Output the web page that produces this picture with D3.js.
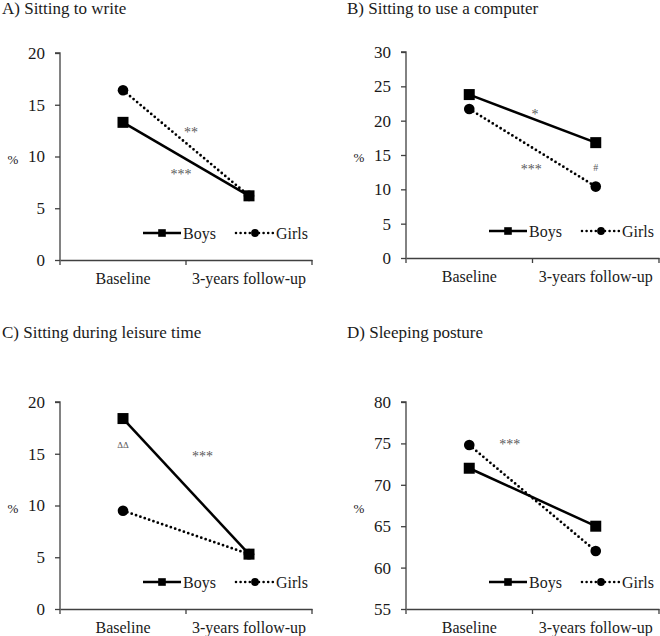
<!DOCTYPE html>
<html>
<head>
<meta charset="utf-8">
<script src="https://cdn.jsdelivr.net/npm/d3@7"></script>
<style>
  html, body { margin: 0; padding: 0; background: #fff; }
  svg { display: block; }
</style>
</head>
<body>
<svg id="chart" width="660" height="636" font-family="Liberation Serif"></svg>
<script>
// ---------- data ----------
const categories = ["Baseline", "3-years follow-up"];
const panelTitles = [
  "A) Sitting to write",
  "B) Sitting to use a computer",
  "C) Sitting during leisure time",
  "D) Sleeping posture"
];
const seriesNames = ["Boys", "Girls"];
const boysValues  = [[13.3, 6.2], [23.8, 16.8], [18.4, 5.3], [72.0, 65.0]];
const girlsValues = [[16.4, 6.2], [21.7, 10.4], [9.5, 5.3],  [74.8, 62.0]];
const yDomains = [[0, 20], [0, 30], [0, 20], [55, 80]];
const yTickValues = [
  [0, 5, 10, 15, 20],
  [0, 5, 10, 15, 20, 25, 30],
  [0, 5, 10, 15, 20],
  [55, 60, 65, 70, 75, 80]
];
const yAxisLabel = "%";
// significance marks: text, position between the two categories (0..1), value
const annotationTexts = [["**", "***"], ["*", "***", "#"], ["ΔΔ", "***"], ["***"]];
const annotationPos   = [[0.54, 0.46], [0.52, 0.49, 1.0], [0.0, 0.63], [0.32]];
const annotationVals  = [[11.9, 7.8], [20.2, 12.2, 12.6], [15.6, 14.3], [74.3]];

// ---------- layout ----------
const FONT = '"Liberation Serif"';
const layout = [
  { x0: 60,  x1: 312, y0: 53,  y1: 260, tx: 2,   ty: 14 },
  { x0: 406, x1: 659, y0: 52,  y1: 258, tx: 347, ty: 14 },
  { x0: 60,  x1: 312, y0: 402, y1: 609, tx: 2,   ty: 338 },
  { x0: 406, x1: 659, y0: 402, y1: 609, tx: 347, ty: 338 }
];
const axisColor = "#404040";
const textColor = "#1a1a1a";
const annColor = "#595959";

const svg = d3.select("#chart");

function styleText(sel, size) {
  sel.attr("font-family", "Liberation Serif")
     .style("font-family", FONT)
     .attr("font-size", size)
     .style("font-size", size + "px");
  return sel;
}

panelTitles.forEach((title, i) => {
  const L = layout[i];
  const g = svg.append("g");

  styleText(g.append("text")
    .attr("x", L.tx).attr("y", L.ty)
    .attr("fill", textColor)
    .text(title), 17);

  const x = d3.scaleBand().domain(categories).range([L.x0, L.x1]).padding(0);
  const cx = c => x(c) + x.bandwidth() / 2;
  const y = d3.scaleLinear().domain(yDomains[i]).range([L.y1, L.y0]);

  // y axis
  const yAx = g.append("g")
    .attr("transform", `translate(${L.x0},0)`)
    .call(d3.axisLeft(y).tickValues(yTickValues[i]).tickSize(5).tickPadding(10).tickFormat(d3.format("d")));
  yAx.attr("font-family", "Liberation Serif").attr("font-size", 17);
  yAx.select(".domain").attr("stroke", axisColor).attr("stroke-width", 1.3).attr("d", `M-5,${L.y0}H0V${L.y1}`);
  yAx.selectAll(".tick line").attr("stroke", axisColor).attr("stroke-width", 1.3);
  styleText(yAx.selectAll(".tick text"), 17).attr("fill", textColor);

  // x axis
  const xAx = g.append("g")
    .attr("transform", `translate(0,${L.y1})`)
    .call(d3.axisBottom(x).tickSize(0).tickPadding(13));
  xAx.attr("font-family", "Liberation Serif").attr("font-size", 16);
  xAx.select(".domain").attr("stroke", axisColor).attr("stroke-width", 1.3);
  styleText(xAx.selectAll(".tick text"), 16).attr("fill", textColor);
  const bounds = categories.map(c => x(c)).concat([x(categories[categories.length - 1]) + x.bandwidth()]);
  xAx.selectAll("line.bound").data(bounds).enter().append("line")
    .attr("class", "bound")
    .attr("x1", d => d).attr("x2", d => d)
    .attr("y1", 0).attr("y2", 5)
    .attr("stroke", axisColor).attr("stroke-width", 1.3);

  // y label
  styleText(g.append("text")
    .attr("x", L.x0 - 47).attr("y", (L.y0 + L.y1) / 2 + 7)
    .attr("text-anchor", "middle")
    .attr("fill", textColor)
    .text(yAxisLabel), 13);

  const line = d3.line().x((d, k) => cx(categories[k])).y(d => y(d));

  // girls (dotted, circles)
  g.append("path").datum(girlsValues[i])
    .attr("d", line).attr("fill", "none")
    .attr("stroke", "#000").attr("stroke-width", 2.8)
    .attr("stroke-linecap", "round").attr("stroke-dasharray", "0,4.6");
  g.selectAll("circle.g").data(girlsValues[i]).enter().append("circle")
    .attr("cx", (d, k) => cx(categories[k])).attr("cy", d => y(d))
    .attr("r", 5.3).attr("fill", "#000");

  // boys (solid, squares)
  g.append("path").datum(boysValues[i])
    .attr("d", line).attr("fill", "none")
    .attr("stroke", "#000").attr("stroke-width", 2.5);
  g.selectAll("rect.b").data(boysValues[i]).enter().append("rect")
    .attr("x", (d, k) => cx(categories[k]) - 5.5).attr("y", d => y(d) - 5.5)
    .attr("width", 11).attr("height", 11).attr("fill", "#000");

  // annotations
  const p0 = cx(categories[0]), p1 = cx(categories[1]);
  annotationTexts[i].forEach((t, k) => {
    styleText(g.append("text")
      .attr("x", p0 + annotationPos[i][k] * (p1 - p0))
      .attr("y", y(annotationVals[i][k]))
      .attr("text-anchor", "middle")
      .attr("fill", annColor)
      .text(t), t.includes("*") ? 14 : (t.includes("#") ? 10 : 9));
  });

  // legend
  const ly = L.y1 - 27;
  let lx = L.x0 + 83;
  const lg = g.append("g");
  lg.append("line").attr("x1", lx).attr("x2", lx + 38).attr("y1", ly).attr("y2", ly)
    .attr("stroke", "#000").attr("stroke-width", 2.5);
  lg.append("rect").attr("x", lx + 19 - 3.8).attr("y", ly - 3.8).attr("width", 7.6).attr("height", 7.6).attr("fill", "#000");
  styleText(lg.append("text").attr("x", lx + 40).attr("y", ly + 5.5)
    .attr("fill", textColor).text(seriesNames[0]), 16);
  lx += 40 + 33 + 20;
  lg.append("line").attr("x1", lx).attr("x2", lx + 38).attr("y1", ly).attr("y2", ly)
    .attr("stroke", "#000").attr("stroke-width", 2.6)
    .attr("stroke-linecap", "round").attr("stroke-dasharray", "0,4.6");
  lg.append("circle").attr("cx", lx + 19).attr("cy", ly).attr("r", 3.9).attr("fill", "#000");
  styleText(lg.append("text").attr("x", lx + 40).attr("y", ly + 5.5)
    .attr("fill", textColor).text(seriesNames[1]), 16);
});
</script>
</body>
</html>
